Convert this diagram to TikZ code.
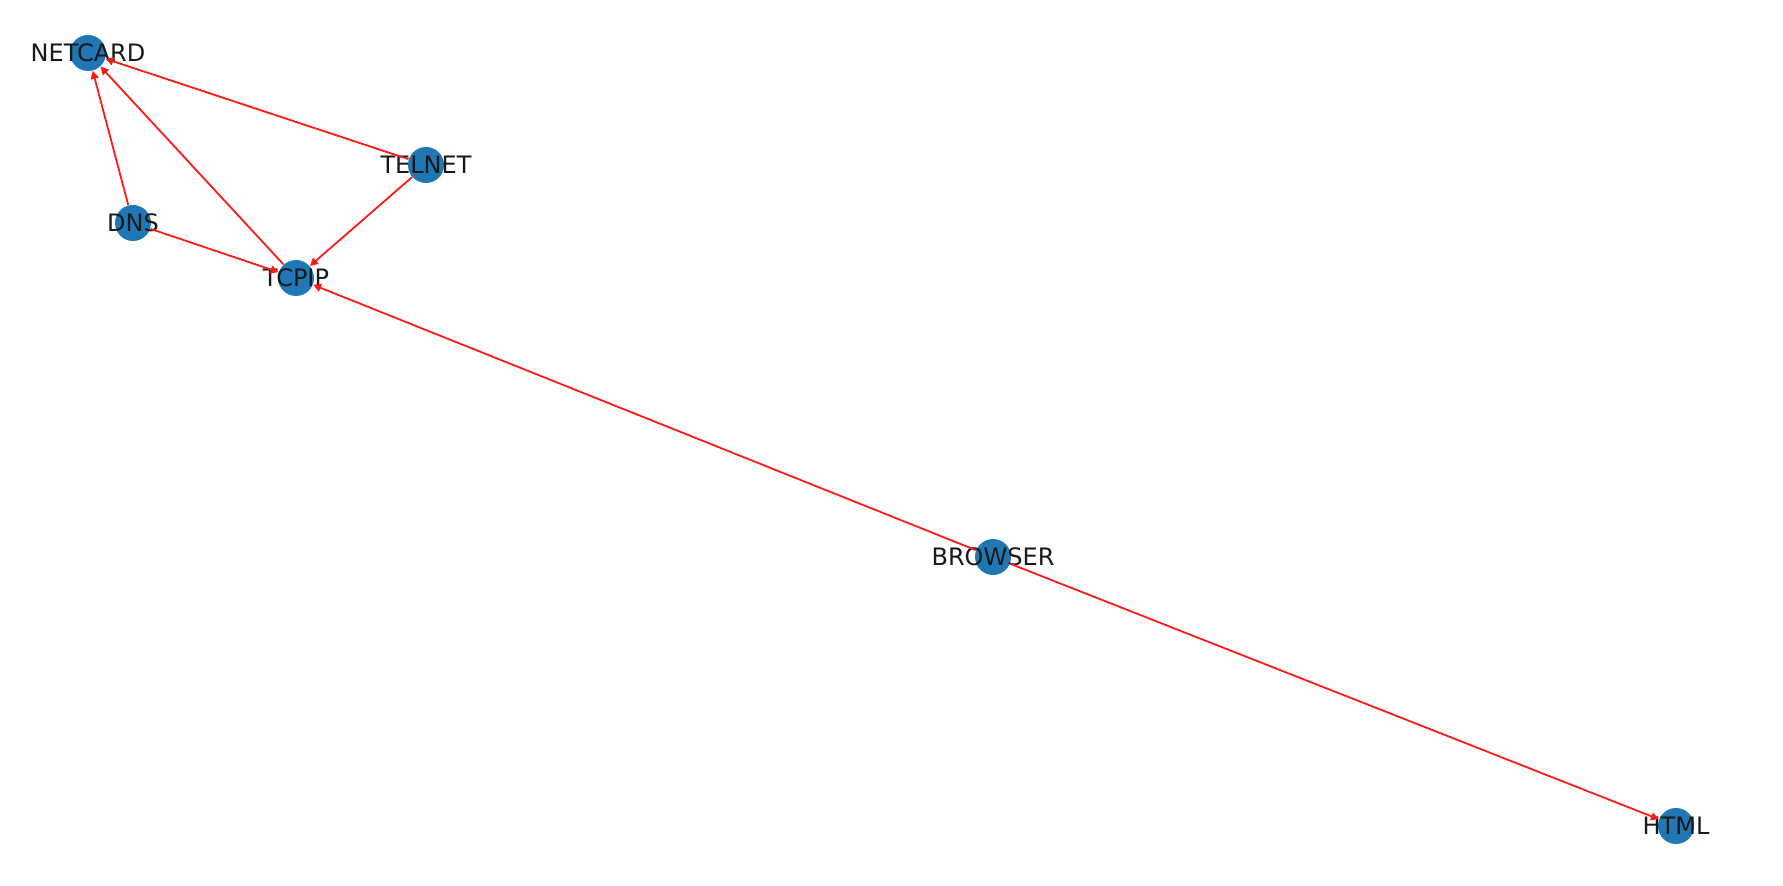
\documentclass[tikz,border=0pt]{standalone}
\usepackage{fontspec}
\setmainfont{DejaVu Sans}
\usetikzlibrary{arrows.meta}
\definecolor{nodeblue}{HTML}{1F77B4}
\begin{document}
\begin{tikzpicture}[x=1pt, y=1pt,
    module/.style={circle, fill=nodeblue, minimum size=18pt, inner sep=0pt},
    modname/.style={font=\fontsize{12pt}{14pt}\selectfont, text=black!90},
    dep/.style={draw=red!90, line width=0.9pt, -{Triangle[length=4pt, width=4pt]}}]
            \useasboundingbox (0,0) rectangle (891.5,442.5);

            % Modules
            \node[module, label={[modname]center:NETCARD}] (NETCARD) at (44,416) {};
            \node[module, label={[modname]center:TELNET}] (TELNET) at (213,360) {};
            \node[module, label={[modname]center:DNS}] (DNS) at (66.5,331) {};
            \node[module, label={[modname]center:TCPIP}] (TCPIP) at (148,303.5) {};
            \node[module, label={[modname]center:BROWSER}] (BROWSER) at (496.5,164) {};
            \node[module, label={[modname]center:HTML}] (HTML) at (838,29.5) {};

            % Dependencies
            \draw[dep] (TELNET) -- (NETCARD);
            \draw[dep] (TELNET) -- (TCPIP);
            \draw[dep] (DNS) -- (NETCARD);
            \draw[dep] (DNS) -- (TCPIP);
            \draw[dep] (TCPIP) -- (NETCARD);
            \draw[dep] (BROWSER) -- (TCPIP);
            \draw[dep] (BROWSER) -- (HTML);
        \end{tikzpicture}
\end{document}
